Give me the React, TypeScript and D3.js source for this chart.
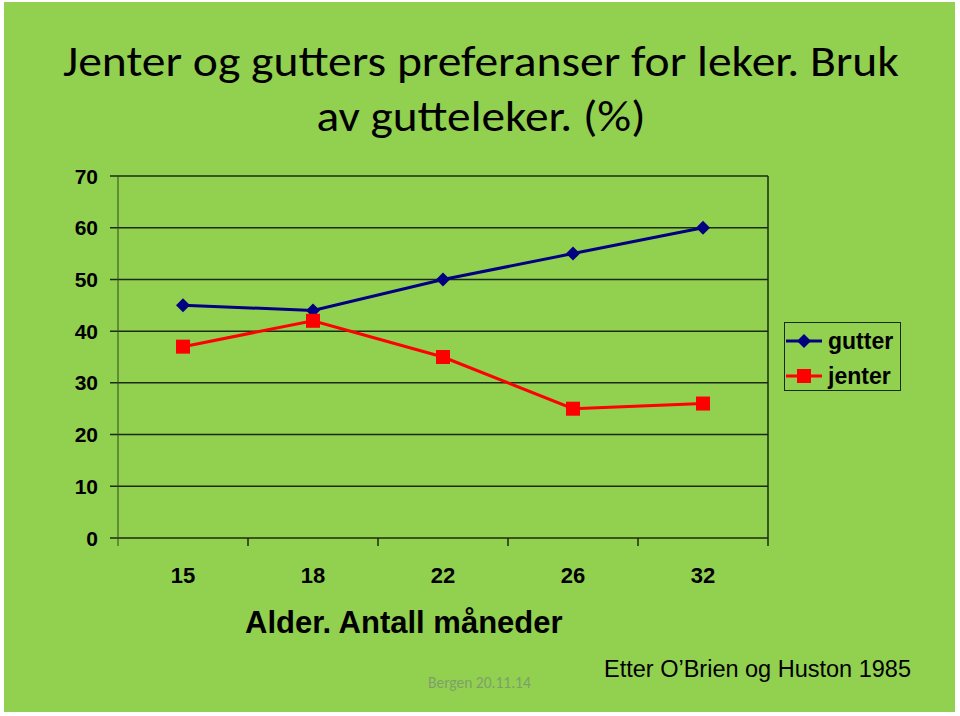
import React from "react";
import * as d3 from "d3";

const categories = ["15", "18", "22", "26", "32"];
const gutter = [45, 44, 50, 55, 60];
const jenter = [37, 42, 35, 25, 26];
const yTicks = [0, 10, 20, 30, 40, 50, 60, 70];
const titleLines = ["Jenter og gutters preferanser for leker. Bruk", "av gutteleker. (%)"];
const xTitle = "Alder. Antall måneder";
const sourceText = "Etter O\u2019Brien og Huston 1985";
const footerText = "Bergen 20.11.14";

const W = 960, H = 716;
const plot = { left: 118, right: 768, top: 176, bottom: 538 };

export default function App() {
  const x = d3.scaleBand<string>().domain(categories).range([plot.left, plot.right]);
  const y = d3.scaleLinear().domain([0, 70]).range([plot.bottom, plot.top]);
  const cx = (c: string) => (x(c) as number) + x.bandwidth() / 2;
  const line = d3.line<number>().x((_, i) => cx(categories[i])).y((d) => y(d));
  const font = "Liberation Sans, Arial, sans-serif";
  const diamond = (px: number, py: number, r: number) =>
    `M${px},${py - r}L${px + r},${py}L${px},${py + r}L${px - r},${py}Z`;
  const gridColor = "#1b2a12";
  const titleWidths = [836, 329];
  return (
    <div style={{ position: "absolute", left: 0, top: 0 }}>
      <svg width={W} height={H} style={{ display: "block" }}>
        <rect x={0} y={0} width={W} height={H} fill="#ffffff" />
        <rect x={4} y={2} width={951} height={710} fill="#92d050" />
        {titleLines.map((t, i) => (
          <text key={i} x={481} y={76 + i * 55} textAnchor="middle" fontFamily="Carlito, Lato, sans-serif" fontSize={44}
            textLength={titleWidths[i]} lengthAdjust="spacingAndGlyphs" fill="#000">{t}</text>
        ))}
        {yTicks.map((v) => (
          <g key={v}>
            <line x1={plot.left - 8} x2={plot.right} y1={y(v)} y2={y(v)} stroke={gridColor} strokeWidth={1.5} />
            <text x={98} y={y(v)} dy="0.36em" textAnchor="end" fontFamily={font} fontWeight="bold" fontSize={21} fill="#000">{v}</text>
          </g>
        ))}
        <line x1={plot.left} x2={plot.left} y1={plot.top} y2={plot.bottom + 8} stroke="#2f4a20" strokeWidth={1} />
        <line x1={plot.right} x2={plot.right} y1={plot.top} y2={plot.bottom + 8} stroke={gridColor} strokeWidth={1.5} />
        {categories.map((c, i) => (
          <g key={c}>
            {i > 0 && (
              <line x1={x(c)} x2={x(c)} y1={plot.bottom} y2={plot.bottom + 8} stroke={gridColor} strokeWidth={1.5} />
            )}
            <text x={cx(c)} y={583} textAnchor="middle" fontFamily={font} fontWeight="bold" fontSize={22} fill="#000">{c}</text>
          </g>
        ))}
        <path d={line(gutter) || ""} fill="none" stroke="#000080" strokeWidth={3} />
        <path d={line(jenter) || ""} fill="none" stroke="#ff0000" strokeWidth={3} />
        {gutter.map((v, i) => (
          <path key={"g" + i} d={diamond(cx(categories[i]), y(v), 7)} fill="#000080" />
        ))}
        {jenter.map((v, i) => (
          <rect key={"j" + i} x={cx(categories[i]) - 7} y={y(v) - 7} width={14} height={14} fill="#ff0000" />
        ))}
        <rect x={784.5} y={322.5} width={116} height={68} fill="none" stroke={gridColor} strokeWidth={1} />
        <line x1={786} x2={822} y1={341} y2={341} stroke="#000080" strokeWidth={3} />
        <path d={diamond(804, 341, 7)} fill="#000080" />
        <text x={828} y={341} dy="0.36em" fontFamily={font} fontWeight="bold" fontSize={23} fill="#000">gutter</text>
        <line x1={786} x2={822} y1={376} y2={376} stroke="#ff0000" strokeWidth={3} />
        <rect x={797} y={369} width={14} height={14} fill="#ff0000" />
        <text x={828} y={376} dy="0.36em" fontFamily={font} fontWeight="bold" fontSize={23} fill="#000">jenter</text>
        <text x={245} y={633} fontFamily={font} fontWeight="bold" fontSize={31} fill="#000">{xTitle}</text>
        <text x={604} y={677} fontFamily={font} fontSize={23.5} fill="#000">{sourceText}</text>
        <text x={428} y={688} fontFamily="Carlito, Lato, sans-serif" fontSize={15.5} fill="#7f9f6a">{footerText}</text>
      </svg>
    </div>
  );
}
